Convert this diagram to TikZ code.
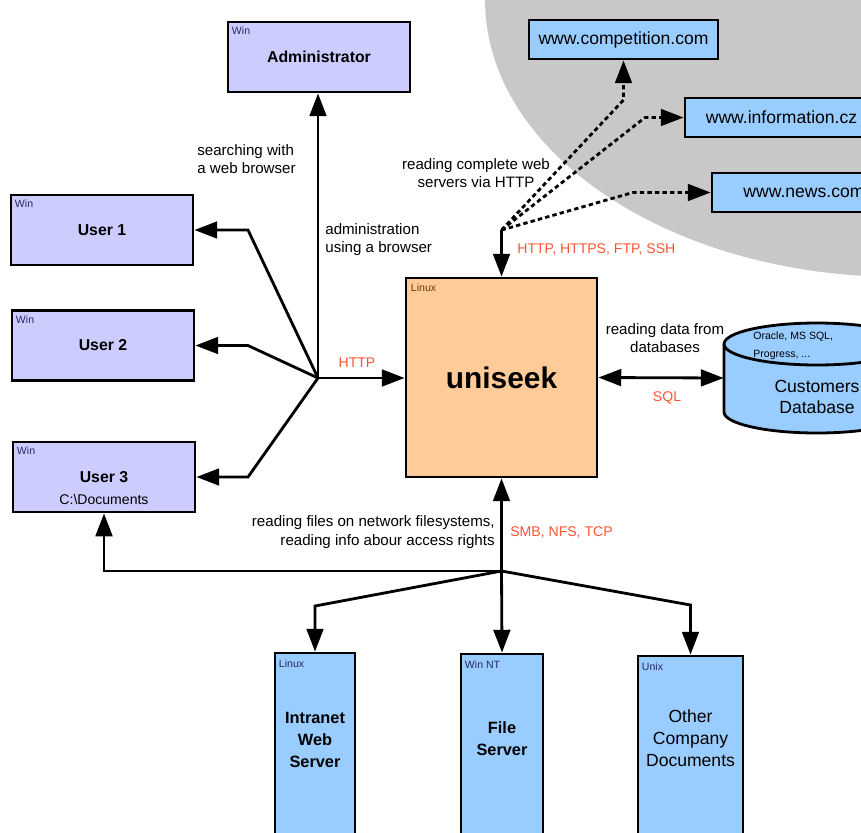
\documentclass[tikz,border=0pt]{standalone}
\usepackage{fontspec}
\setmainfont{Liberation Sans}
\usepackage{tikz}
\usetikzlibrary{arrows.meta,positioning,shapes}
\definecolor{userfill}{RGB}{204,204,255}
\definecolor{corefill}{RGB}{255,204,153}
\definecolor{netfill}{RGB}{153,204,255}
\definecolor{cloudgray}{RGB}{200,200,200}
\definecolor{protored}{RGB}{255,85,51}
\definecolor{osblue}{RGB}{40,40,100}
\definecolor{osbrown}{RGB}{100,60,0}
\tikzset{
  box/.style={draw, line width=1.6pt, inner sep=0pt},
  userbox/.style={box, fill=userfill, minimum width=3.64cm, minimum height=1.4cm, font=\fontsize{9}{11}\selectfont\bfseries},
  corebox/.style={box, fill=corefill, minimum width=3.82cm, minimum height=3.98cm, font=\fontsize{17}{20}\selectfont\bfseries},
  webbox/.style={box, fill=netfill, minimum height=0.78cm, font=\fontsize{10}{12}\selectfont},
  srvbox/.style={box, fill=netfill, minimum height=4cm},
  srvlabel/.style={inner sep=0pt, align=center, font=\fontsize{9.3}{12.5}\selectfont\bfseries},
  oslabel/.style={anchor=north west, inner sep=0pt, text=osblue, font=\fontsize{6}{7}\selectfont},
  note/.style={inner sep=0pt, font=\fontsize{8.6}{10.4}\selectfont},
  protolabel/.style={note, text=protored, font=\fontsize{8}{10}\selectfont},
  link/.style={line width=1.6pt, -{Triangle[length=13pt,width=9.5pt]}},
  weblink/.style={link, dash pattern=on 2.5pt off 1.8pt},
}
\begin{document}
\begin{tikzpicture}[x=0.02cm, y=-0.02cm]
\useasboundingbox (0,0) rectangle (861,832);
\clip (0,0) rectangle (861,832);
\fill[cloudgray] (900,0) ellipse [x radius=8.3cm, y radius=5.54cm];

\node[userbox] (admin) at (319,57) {Administrator};
\node[userbox] (user1) at (102,230) {User 1};
\node[userbox] (user2) at (103,345.5) {User 2};
\node[userbox] (user3) at (104,477) {User 3};
\node[note, font=\fontsize{8}{10}\selectfont] (user3dir) at (104,499) {C:\textbackslash Documents};
\node[corebox] (uniseek) at (501.5,377.5) {uniseek};
\node[webbox, minimum width=3.78cm] (comp) at (623.5,39.5) {www.competition.com};
\node[webbox, minimum width=3.86cm] (info) at (781.5,117.5) {www.information.cz};
\node[webbox, minimum width=3.68cm] (news) at (804,192.5) {www.news.com};

\filldraw[fill=netfill, line width=1.6pt] (724,344) -- (724,412) arc[start angle=180, end angle=360, x radius=1.86cm, y radius=0.42cm] -- (910,344) arc[start angle=0, end angle=180, x radius=1.86cm, y radius=0.42cm] -- cycle;
\draw[line width=1.6pt] (724,344) arc[start angle=180, end angle=360, x radius=1.86cm, y radius=0.42cm];
\node[inner sep=0pt, minimum width=3.72cm, minimum height=2.2cm] (db) at (817,378) {};
\node[inner sep=0pt, align=center, font=\fontsize{10}{12}\selectfont] (dbname) at (817,397) {Customers\\Database};
\node[inner sep=0pt, anchor=west, align=left, font=\fontsize{6}{10}\selectfont] (dbkind) at (753,346) {Oracle, MS SQL,\\Progress, ...};

\node[srvbox, minimum width=1.6cm] (intranet) at (315,753) {};
\node[srvbox, minimum width=1.64cm] (files) at (502,754) {};
\node[srvbox, minimum width=2.1cm] (docs) at (690.5,756) {};
\node[srvlabel] (intranetname) at (315,740) {Intranet\\Web\\Server};
\node[srvlabel] (filesname) at (502,738.5) {File\\Server};
\node[srvlabel, font=\fontsize{10}{12.5}\selectfont] (docsname) at (690.5,738) {Other\\Company\\Documents};

\node[oslabel] at ([shift={(5,6)}]admin.north west) {Win};
\node[oslabel] at ([shift={(5,6)}]user1.north west) {Win};
\node[oslabel] at ([shift={(5,6)}]user2.north west) {Win};
\node[oslabel] at ([shift={(5,6)}]user3.north west) {Win};
\node[oslabel, text=osbrown] at ([shift={(6,7)}]uniseek.north west) {Linux};
\node[oslabel] at ([shift={(5,8)}]intranet.north west) {Linux};
\node[oslabel] at ([shift={(5,8)}]files.north west) {Win NT};
\node[oslabel] at ([shift={(5,8)}]docs.north west) {Unix};

\coordinate (hub) at (318,378);
\coordinate (webhub) at (501.5,230);
\coordinate (filehub) at (501.5,571);

\draw[link] (hub) -- (hub -| uniseek.west);
\draw[link] (hub) -- (hub |- admin.south);
\draw[link] (hub) -- (248,230) -- (user1.east);
\draw[link] (hub) -- (248,345.5) -- (user2.east);
\draw[link] (hub) -- (248,477) -- (user3.east);

\draw[link] (webhub) -- (uniseek.north);
\draw[weblink] (webhub) -- (623.5,100) -- (comp.south);
\draw[weblink] (webhub) -- (645,117.5) -- (info.west);
\draw[weblink] (webhub) -- (633,192.5) -- (news.west);

\draw[link, {Triangle[length=13pt,width=9.5pt]}-{Triangle[length=13pt,width=9.5pt]}] (uniseek.east) -- (db.west);

\draw[link] (filehub) -- (uniseek.south);
\draw[link] (filehub) -- (104,571) -- (user3.south);
\draw[link] (filehub) -- (315,606) -- (intranet.north);
\draw[link] (filehub) -- (files.north);
\draw[link] (filehub) -- (690.5,605) -- (docs.north);

\node[note, anchor=west, align=left] (searchnote) at (197,159) {searching with\\a web browser};
\node[note, anchor=west, align=left] (adminnote) at (325,239.5) {administration\\using a browser};
\node[note, align=center] (crawlnote) at (476,173) {reading complete web\\servers via HTTP};
\node[protolabel, anchor=west] (webproto) at (517,249) {HTTP, HTTPS, FTP, SSH};
\node[protolabel] (httpproto) at (357,363) {HTTP};
\node[note, align=center] (dbnote) at (665,338) {reading data from\\databases};
\node[protolabel] (sqlproto) at (667,398) {SQL};
\node[note, anchor=east, align=right] (filenote) at (495,532) {reading files on network filesystems,\\reading info abour access rights};
\node[protolabel, anchor=west] (fileproto) at (510,532) {SMB, NFS, TCP};
\end{tikzpicture}
\end{document}
